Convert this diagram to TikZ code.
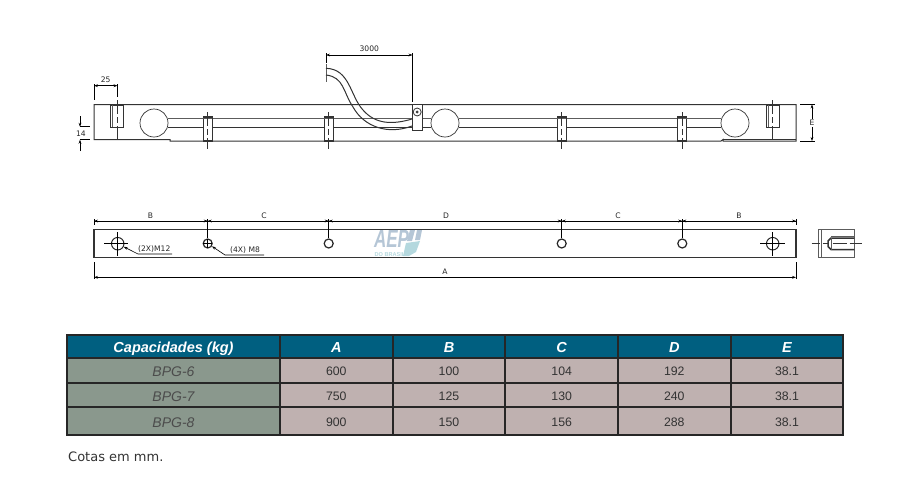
\documentclass[tikz,border=0pt]{standalone}
\usepackage{fontspec}
\usepackage{xcolor}
\usepackage{tikz}
\usetikzlibrary{arrows.meta, positioning}
\setmainfont{DejaVu Sans}
\newfontfamily\tablefont{Liberation Sans}
\definecolor{headblue}{HTML}{005F80}
\definecolor{rowgreen}{HTML}{8A988D}
\definecolor{rowrose}{HTML}{BFB1B0}
\definecolor{logoblue}{HTML}{B5C6D6}
\definecolor{logoteal}{HTML}{B4D8DE}
\definecolor{inkgray}{HTML}{333333}
\tikzset{
  part/.style={draw=inkgray, line width=1pt},
  thin part/.style={draw=inkgray!80, line width=0.7pt},
  axis/.style={draw=inkgray, line width=0.6pt, dash pattern=on 14pt off 3pt on 6pt off 3pt on 14pt},
  dim/.style={draw=black, line width=0.6pt},
  dimtip/.style={dim, {Stealth[length=4pt,width=2.8pt]}-{Stealth[length=4pt,width=2.8pt]}},
  dimlabel/.style={font=\fontsize{7.6}{8}\selectfont, inner sep=0pt, text=black!85},
  headcell/.style={draw=black!85, line width=1.7pt, fill=headblue, text=white, inner sep=0pt,
    text height=11.4pt, text depth=0pt, font=\tablefont\fontsize{14.5}{16}\selectfont\bfseries\itshape},
  namecell/.style={draw=black!85, line width=1.7pt, fill=rowgreen, text=black!70, inner sep=0pt,
    text height=11.4pt, text depth=0pt, font=\tablefont\fontsize{14}{16}\selectfont\itshape},
  datacell/.style={draw=black!85, line width=1.7pt, fill=rowrose, text=black!80, inner sep=0pt,
    text height=10.2pt, text depth=0pt, font=\tablefont\fontsize{12.3}{14}\selectfont},
  firstcol/.style={minimum width=213pt},
  col/.style={minimum width=112.6pt},
  row/.style={minimum height=#1},
}
\begin{document}
\begin{tikzpicture}[>=Stealth, x=1pt, y=-1pt]
        \useasboundingbox (0,0) rectangle (900,501);

        % Top view
        \draw[part] (94,127) -- (94,104.5) -- (796,104.5) -- (796,141) -- (723,141)
          -- (723,139.5) -- (721,141) -- (170,141) -- (170,139.7) -- (94,139.7) -- (94,127);
        \draw[part, line width=1.2pt] (723,139.4) -- (796,139.4);

        \node (LoadL) [draw=inkgray, circle, line width=0.7pt, minimum size=28pt, inner sep=0pt] at (154,123) {};
        \node (LoadM) [draw=inkgray, circle, line width=0.7pt, minimum size=28pt, inner sep=0pt] at (445,123) {};
        \node (LoadR) [draw=inkgray, circle, line width=0.7pt, minimum size=28pt, inner sep=0pt] at (735,123) {};

        \draw[thin part] (168,118) -- (412,118) (422,118) -- (431,118) (459,118) -- (721,118);
        \draw[part, line width=0.8pt] (168,127.3) -- (412,127.3) (422,127.3) -- (431,127.3) (459,127.3) -- (721,127.3);

        % Mounting pins
        \foreach \x in {207.7, 328.7, 561.7, 682.3} {
          \draw[part, fill=white, line width=1.2pt] (\x-4.5,117) rectangle (\x+4.5,141);
          \draw[thin part] (\x-4.5,118.5) -- (\x+4.5,118.5);
          \draw[axis] (\x,112) -- (\x,149);
        }
        \draw[part, fill=white] (110.7,105) rectangle (123.7,127);
        \draw[thin part] (112.6,105) -- (112.6,127);
        \draw[axis] (117.3,100) -- (117.3,147);
        \draw[part, fill=white] (766.7,105) rectangle (779,127);
        \draw[thin part] (768.6,105) -- (768.6,127);
        \draw[axis] (772.6,100) -- (772.6,147);

        % Cable and clamp
        \draw[thin part] (326,64) -- (326,82);
        \draw[part] (326,68.3) .. controls (350,69) and (350,96) .. (363,110)
          .. controls (375,124) and (392,125) .. (412,119);
        \draw[part] (326,75) .. controls (344,77) and (343,92) .. (353,107)
          .. controls (364,127) and (388,135) .. (412,126);
        \draw[part, fill=white] (412.3,104.5) rectangle (422,130.7);
        \node (Clamp) [draw=inkgray, circle, line width=0.8pt, minimum size=8pt, inner sep=0pt] at (417.2,112) {};
        \node (ClampIn) [draw=inkgray, circle, fill=inkgray, minimum size=2.5pt, inner sep=0pt] at (417.2,112) {};

        % Top view dimensions
        \coordinate (CableEnd) at (326,55);
        \coordinate (ClampEnd) at (412.5,55);
        \draw[dim] (326,53) -- (326,63) (412.5,53) -- (412.5,102);
        \draw[dimtip] (CableEnd) -- (ClampEnd) node[dimlabel, midway, above=3.5pt] (Len) {3000};

        \coordinate (PinL) at (94,85.7);
        \coordinate (PinR) at (117.5,85.7);
        \draw[dim] (94,84) -- (94,100) (117.5,84) -- (117.5,97);
        \draw[dimtip] (PinL) -- (PinR) node[dimlabel, midway, above=2.5pt] (Offset) {25};

        \coordinate (FourteenTop) at (80,126.7);
        \coordinate (FourteenBot) at (80,139.7);
        \draw[dim] (80,126.7) -- (90,126.7) (80,139.7) -- (90,139.7);
        \draw[dim, ->, >={Stealth[length=4pt,width=2.8pt]}] (80,116) -- (FourteenTop);
        \draw[dim, ->, >={Stealth[length=4pt,width=2.8pt]}] (80,151) -- (FourteenBot);
        \node (Fourteen) [dimlabel] at (81,133.3) {14};

        \coordinate (HeightTop) at (812,104.5);
        \coordinate (HeightBot) at (812,141);
        \draw[dim] (800,104.5) -- (815,104.5) (800,141) -- (815,141);
        \draw[dimtip] (HeightTop) -- (HeightBot);
        \node (Height) [dimlabel, fill=white, inner sep=0.8pt] at (812,123) {E};

        % Watermark
        \node (LogoName) [font=\tablefont\fontsize{25}{25}\selectfont\bfseries\itshape, text=logoblue, inner sep=0pt] at (391.5,239) {\scalebox{0.68}[1]{AEP}};
        \node (LogoSub) [font=\tablefont\fontsize{5.6}{6}\selectfont\bfseries, text=logoteal, inner sep=0pt] at (390,254.3) {DO BRASIL};
        \fill[logoblue] (410,230) -- (415,230) -- (412,241) -- (407,241) -- cycle;
        \fill[logoblue] (417,230) -- (422,230) -- (420,240) -- (415,240) -- cycle;
        \fill[logoteal] (406,243) -- (420,241) -- (416,252) -- (409,256) -- (403,256) -- cycle;

        % Front view
        \draw[part, line width=1.2pt] (94,229.7) rectangle (796,257.3);
        \draw[dim] (94,221) -- (796,221);
        \draw[dim] (94,219) -- (94,225) (796,219) -- (796,225);
        \draw[dim, -{Stealth[length=4pt,width=2.8pt]}] (99,221) -- (94,221);
        \draw[dim, -{Stealth[length=4pt,width=2.8pt]}] (791,221) -- (796,221);
        \foreach \x/\ha in {207.7/a, 328.7/b, 561.7/c, 682.3/d} {
          \node (Hole\ha) [draw=black!85, circle, line width=1.2pt, minimum size=9pt, inner sep=0pt] at (\x,243.5) {};
          \draw[dim, line width=0.7pt] (\x,219) -- (Hole\ha);
          \draw[dim, -{Stealth[length=4pt,width=2.8pt]}] (\x-6,221) -- (\x,221);
          \draw[dim, -{Stealth[length=4pt,width=2.8pt]}] (\x+6,221) -- (\x,221);
        }
        \draw[dim] (203.2,243.5) -- (212.2,243.5) (207.7,239) -- (207.7,248);

        \node (BigL) [draw=black!85, circle, line width=1pt, minimum size=12.5pt, inner sep=0pt] at (117.7,243.7) {};
        \node (BigR) [draw=black!85, circle, line width=1pt, minimum size=12.5pt, inner sep=0pt] at (772.7,243.7) {};
        \draw[dim] (104,243.7) -- (128,243.7) (117.7,232) -- (117.7,256);
        \draw[dim] (760,243.7) -- (785,243.7) (772.7,232) -- (772.7,256);

        \node (DimB) [dimlabel] at (150.5,216) {B};
        \node (DimC) [dimlabel] at (264,216) {C};
        \node (DimD) [dimlabel] at (446,216) {D};
        \node (DimCC) [dimlabel] at (618,216) {C};
        \node (DimBB) [dimlabel] at (739,216) {B};

        % Thread callouts
        \node (BigNote) [dimlabel, anchor=south west] at (138,253) {(2X)M12};
        \node (SmallNote) [dimlabel, anchor=south west] at (230,253.5) {(4X) M8};
        \draw[dim, <-, >={Stealth[length=4pt,width=2.8pt]}] (BigL) -- (138,254) -- (172,254);
        \draw[dim, <-, >={Stealth[length=4pt,width=2.8pt]}] (Holea) -- (225,255) -- (264,255);

        \coordinate (SpanL) at (94,277.3);
        \coordinate (SpanR) at (796,277.3);
        \draw[dim] (94,262) -- (94,279) (796,262) -- (796,279);
        \draw[dimtip] (SpanL) -- (SpanR);
        \node (DimA) [dimlabel] at (445,272) {A};

        % Side view
        \draw[thin part] (818.3,229.7) rectangle (854.7,257.3);
        \draw[thin part] (821,229.7) -- (821,257.3);
        \draw[part, line width=1.5pt] (854.3,238) -- (831,238) -- (828,241) -- (828,246.5) -- (831,249.5) -- (854.3,249.5);
        \draw[thin part] (831,236) -- (854.3,236);
        \draw[thin part] (831,238) -- (831,249.5);
        \draw[axis, dash pattern=on 8pt off 3pt on 5pt off 5pt on 14pt off 3pt on 14pt] (811.7,243.7) -- (861.7,243.7);

        % Table
        \node (Cap) [headcell, firstcol, minimum height=23.6pt] at (173.5,346.5) {Capacidades (kg)};
        \node (HA) [headcell, col, minimum height=23.6pt] at (336.3,346.5) {A};
        \node (HB) [headcell, col, minimum height=23.6pt] at (449,346.5) {B};
        \node (HC) [headcell, col, minimum height=23.6pt] at (561.7,346.5) {C};
        \node (HD) [headcell, col, minimum height=23.6pt] at (674.3,346.5) {D};
        \node (HE) [headcell, col, minimum height=23.6pt] at (787,346.5) {E};

        \foreach \ry/\rh/\rn/\va/\vb/\vc/\vd/\ve in {
          370.8/25/BPG-6/600/100/104/192/38.1,
          395.3/24/BPG-7/750/125/130/240/38.1,
          421.3/28/BPG-8/900/150/156/288/38.1} {
          \node (Name\rn) [namecell, firstcol, row=\rh pt] at (173.5,\ry) {\rn};
          \node (A\rn) [datacell, col, row=\rh pt] at (336.3,\ry) {\va};
          \node (B\rn) [datacell, col, row=\rh pt] at (449,\ry) {\vb};
          \node (C\rn) [datacell, col, row=\rh pt] at (561.7,\ry) {\vc};
          \node (D\rn) [datacell, col, row=\rh pt] at (674.3,\ry) {\vd};
          \node (E\rn) [datacell, col, row=\rh pt] at (787,\ry) {\ve};
        }

        \node (Note) [anchor=west, inner sep=0pt, font=\fontsize{13}{14}\selectfont, text=black!80] at (68,456.5) {Cotas em mm.};

\end{tikzpicture}
\end{document}
